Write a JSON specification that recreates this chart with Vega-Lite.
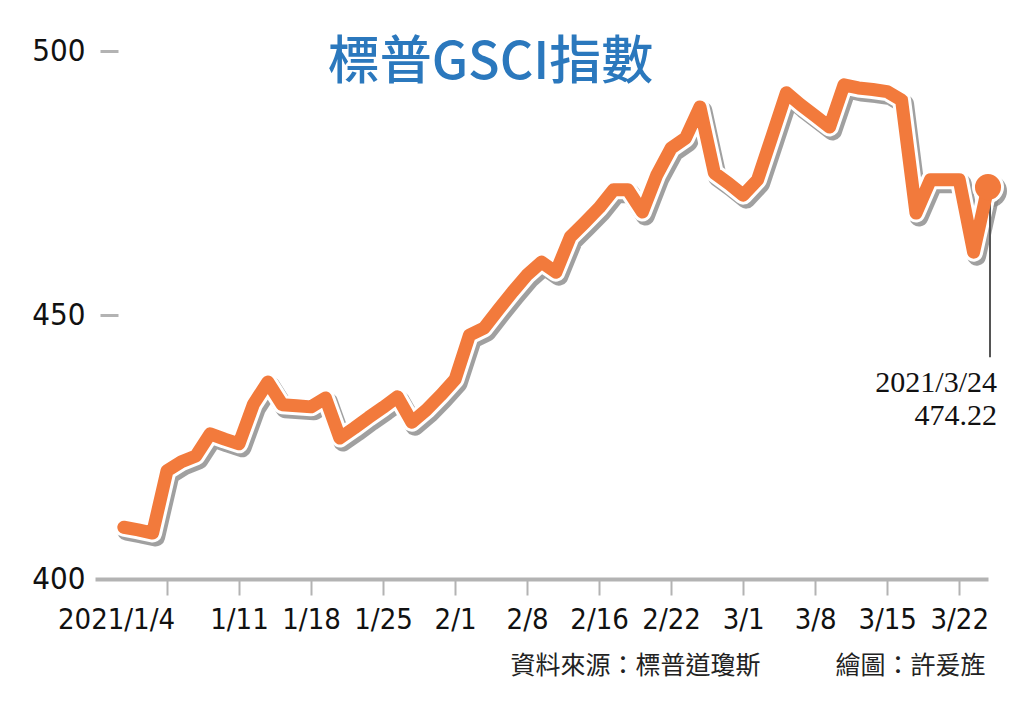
{
  "$schema": "https://vega.github.io/schema/vega-lite/v6.json",
  "width": 893,
  "height": 528,
  "autosize": "none",
  "padding": {"left": 95, "top": 51, "right": 36, "bottom": 125},
  "background": "white",
  "config": {"view": {"stroke": null}},
  "title": {
    "text": "標普GSCI指數",
    "anchor": "middle",
    "frame": "group",
    "offset": 0,
    "baseline": "alphabetic",
    "dy": 96,
    "dx": -51,
    "font": "Noto Sans CJK TC",
    "fontSize": 52,
    "fontWeight": 500,
    "color": "#2b78bd"
  },
  "data": {
    "values": [
      {"date": "2020-12-29", "value": 409.8},
      {"date": "2020-12-30", "value": 409.3},
      {"date": "2020-12-31", "value": 408.7},
      {"date": "2021-01-04", "value": 420.5},
      {"date": "2021-01-05", "value": 422.2},
      {"date": "2021-01-06", "value": 423.3},
      {"date": "2021-01-07", "value": 427.5},
      {"date": "2021-01-08", "value": 426.5},
      {"date": "2021-01-11", "value": 425.6},
      {"date": "2021-01-12", "value": 433.1},
      {"date": "2021-01-13", "value": 437.3},
      {"date": "2021-01-14", "value": 433.0},
      {"date": "2021-01-15", "value": 432.8},
      {"date": "2021-01-18", "value": 432.6},
      {"date": "2021-01-19", "value": 434.3},
      {"date": "2021-01-20", "value": 426.7},
      {"date": "2021-01-21", "value": 428.6},
      {"date": "2021-01-22", "value": 430.6},
      {"date": "2021-01-25", "value": 432.5},
      {"date": "2021-01-26", "value": 434.5},
      {"date": "2021-01-27", "value": 429.7},
      {"date": "2021-01-28", "value": 432.0},
      {"date": "2021-01-29", "value": 434.8},
      {"date": "2021-02-01", "value": 437.8},
      {"date": "2021-02-02", "value": 446.2},
      {"date": "2021-02-03", "value": 447.5},
      {"date": "2021-02-04", "value": 451.0},
      {"date": "2021-02-05", "value": 454.4},
      {"date": "2021-02-08", "value": 457.6},
      {"date": "2021-02-09", "value": 460.0},
      {"date": "2021-02-10", "value": 458.1},
      {"date": "2021-02-11", "value": 464.8},
      {"date": "2021-02-12", "value": 467.5},
      {"date": "2021-02-15", "value": 470.3},
      {"date": "2021-02-16", "value": 473.7},
      {"date": "2021-02-17", "value": 473.7},
      {"date": "2021-02-18", "value": 469.5},
      {"date": "2021-02-19", "value": 476.5},
      {"date": "2021-02-22", "value": 481.6},
      {"date": "2021-02-23", "value": 483.5},
      {"date": "2021-02-24", "value": 489.4},
      {"date": "2021-02-25", "value": 476.9},
      {"date": "2021-02-26", "value": 474.9},
      {"date": "2021-03-01", "value": 472.7},
      {"date": "2021-03-02", "value": 475.6},
      {"date": "2021-03-03", "value": 483.8},
      {"date": "2021-03-04", "value": 492.1},
      {"date": "2021-03-05", "value": 489.8},
      {"date": "2021-03-08", "value": 487.7},
      {"date": "2021-03-09", "value": 485.6},
      {"date": "2021-03-10", "value": 493.6},
      {"date": "2021-03-11", "value": 493.0},
      {"date": "2021-03-12", "value": 492.7},
      {"date": "2021-03-15", "value": 492.3},
      {"date": "2021-03-16", "value": 490.7},
      {"date": "2021-03-17", "value": 469.3},
      {"date": "2021-03-18", "value": 475.6},
      {"date": "2021-03-19", "value": 475.6},
      {"date": "2021-03-22", "value": 475.6},
      {"date": "2021-03-23", "value": 461.9},
      {"date": "2021-03-24", "value": 474.22}
    ]
  },
  "encoding": {
    "x": {
      "field": "date",
      "type": "ordinal",
      "scale": {
        "type": "point",
        "padding": 0,
        "domain": [
          "2020-12-25", "2020-12-28", "2020-12-29", "2020-12-30", "2020-12-31",
          "2021-01-04", "2021-01-05", "2021-01-06", "2021-01-07", "2021-01-08",
          "2021-01-11", "2021-01-12", "2021-01-13", "2021-01-14", "2021-01-15",
          "2021-01-18", "2021-01-19", "2021-01-20", "2021-01-21", "2021-01-22",
          "2021-01-25", "2021-01-26", "2021-01-27", "2021-01-28", "2021-01-29",
          "2021-02-01", "2021-02-02", "2021-02-03", "2021-02-04", "2021-02-05",
          "2021-02-08", "2021-02-09", "2021-02-10", "2021-02-11", "2021-02-12",
          "2021-02-15", "2021-02-16", "2021-02-17", "2021-02-18", "2021-02-19",
          "2021-02-22", "2021-02-23", "2021-02-24", "2021-02-25", "2021-02-26",
          "2021-03-01", "2021-03-02", "2021-03-03", "2021-03-04", "2021-03-05",
          "2021-03-08", "2021-03-09", "2021-03-10", "2021-03-11", "2021-03-12",
          "2021-03-15", "2021-03-16", "2021-03-17", "2021-03-18", "2021-03-19",
          "2021-03-22", "2021-03-23", "2021-03-24"
        ]
      },
      "axis": {
        "values": ["2021-01-04", "2021-01-11", "2021-01-18", "2021-01-25", "2021-02-01", "2021-02-08", "2021-02-15", "2021-02-22", "2021-03-01", "2021-03-08", "2021-03-15", "2021-03-22"],
        "labelExpr": "datum.value == '2021-01-04' ? '2021/1/4' : datum.value == '2021-02-15' ? '2/16' : toNumber(slice(datum.value, 5, 7)) + '/' + toNumber(slice(datum.value, 8, 10))",
        "labelAngle": 0,
        "labelOverlap": false,
        "labelFlush": false,
        "labelFont": "DejaVu Sans Condensed",
        "labelFontSize": 29,
        "labelColor": "#111111",
        "labelPadding": 10,
        "labelOffset": {"condition": {"test": "datum.value == '2021-01-04'", "value": -51}, "value": 0},
        "tickSize": 16,
        "tickWidth": 2,
        "tickColor": "#b3b3b3",
        "domainColor": "#b3b3b3",
        "domainWidth": 4,
        "title": "資料來源：標普道瓊斯　　　繪圖：許爰旌",
        "titleFont": "Noto Sans CJK TC",
        "titleFontSize": 25,
        "titleFontWeight": "normal",
        "titleColor": "#222222",
        "titleAlign": "right",
        "titleAnchor": "end",
        "titleBaseline": "top",
        "titleX": 890,
        "titleY": 74
      }
    },
    "y": {
      "field": "value",
      "type": "quantitative",
      "scale": {"domain": [400, 500], "nice": false, "zero": false},
      "axis": {
        "values": [400, 450, 500],
        "domain": false,
        "ticks": false,
        "grid": true,
        "gridColor": "#b3b3b3",
        "gridWidth": 3,
        "gridDash": [0, 5, 18, 3000],
        "labelFont": "DejaVu Sans Condensed",
        "labelFontSize": 31,
        "labelColor": "#111111",
        "labelPadding": 10,
        "title": null
      }
    }
  },
  "layer": [
    {"mark": {"type": "line", "color": "#888888", "strokeWidth": 19, "xOffset": 3, "yOffset": 4, "strokeJoin": "round", "strokeCap": "round", "opacity": 0.8}},
    {
      "transform": [{"filter": "datum.date == '2021-03-24'"}],
      "mark": {"type": "point", "shape": "circle", "filled": true, "color": "#888888", "size": 1024, "xOffset": 3, "yOffset": 4, "opacity": 0.8}
    },
    {"mark": {"type": "line", "color": "white", "strokeWidth": 19, "strokeJoin": "round", "strokeCap": "round"}},
    {
      "transform": [{"filter": "datum.date == '2021-03-24'"}],
      "mark": {"type": "point", "shape": "circle", "filled": true, "color": "white", "size": 1024, "opacity": 1}
    },
    {
      "transform": [{"filter": "datum.date == '2021-03-24'"}],
      "mark": {"type": "rule", "color": "#555555", "strokeWidth": 2, "xOffset": 2},
      "encoding": {"y2": {"datum": 442}}
    },
    {"mark": {"type": "line", "color": "#f27a3c", "strokeWidth": 13, "strokeJoin": "round", "strokeCap": "round"}},
    {
      "transform": [{"filter": "datum.date == '2021-03-24'"}],
      "mark": {"type": "point", "shape": "circle", "filled": true, "color": "#f27a3c", "size": 680, "opacity": 1}
    },
    {
      "transform": [{"filter": "datum.date == '2021-03-24'"}],
      "mark": {"type": "text", "align": "right", "baseline": "alphabetic", "dx": 9, "dy": 205, "lineBreak": "\n", "lineHeight": 33, "font": "Liberation Serif", "fontSize": 30, "color": "#111111"},
      "encoding": {"text": {"value": "2021/3/24\n474.22"}}
    }
  ]
}
